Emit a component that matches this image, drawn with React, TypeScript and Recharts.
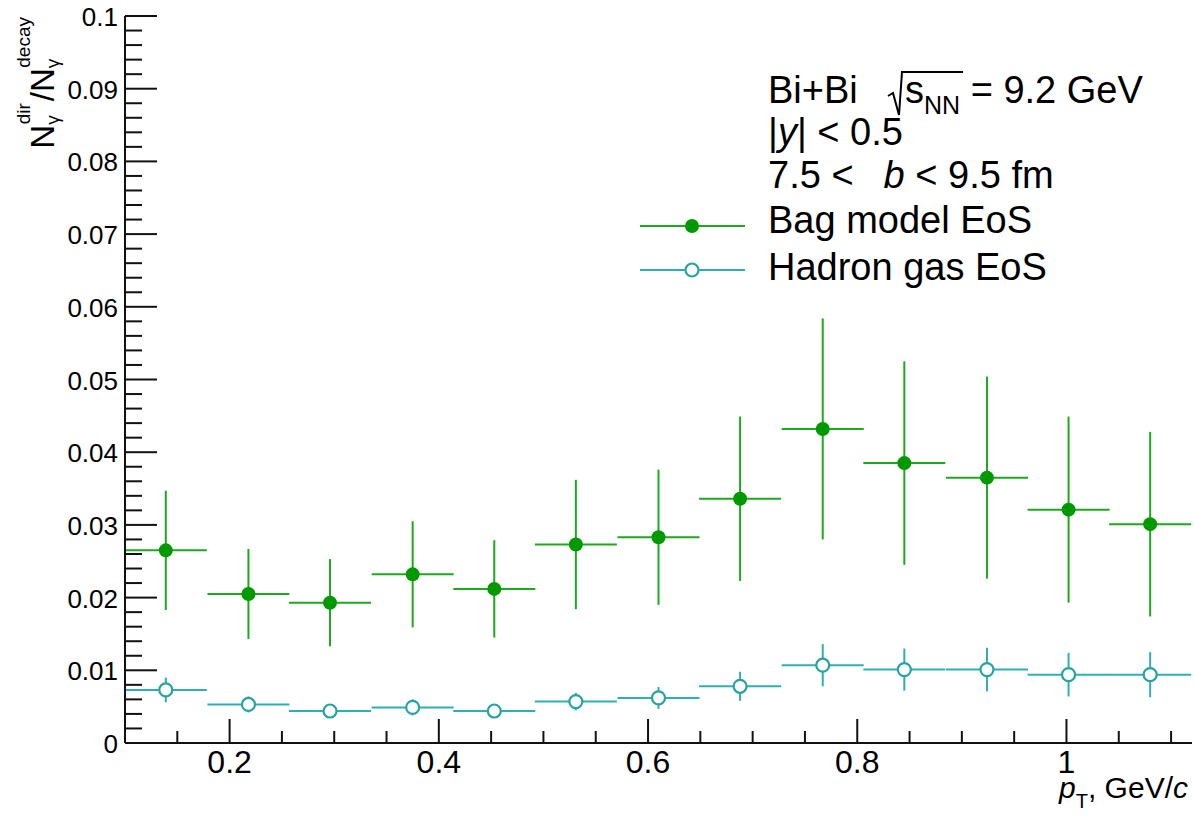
import React from "react";
import { ComposedChart, Scatter, XAxis, YAxis, ErrorBar } from "recharts";

// pT bin centres (GeV/c) and half bin width
const ptBins = [0.139, 0.218, 0.296, 0.375, 0.453, 0.531, 0.61, 0.688, 0.767, 0.845, 0.924, 1.002, 1.08];
const binHalfWidth = 0.0392;

// N_dir / N_decay, bag model EoS
const bagRatio = [0.0265, 0.0205, 0.0193, 0.0232, 0.0212, 0.0273, 0.0283, 0.0336, 0.0432, 0.0385, 0.0365, 0.0321, 0.0301];
const bagErr = [0.0082, 0.0062, 0.006, 0.0073, 0.0067, 0.0089, 0.0093, 0.0113, 0.0152, 0.014, 0.0139, 0.0128, 0.0127];

// N_dir / N_decay, hadron gas EoS
const hadronRatio = [0.0073, 0.0053, 0.0044, 0.0049, 0.0044, 0.0057, 0.0062, 0.0078, 0.0107, 0.0101, 0.0101, 0.0094, 0.0094];
const hadronErr = [0.0017, 0.0011, 0.0008, 0.0011, 0.0009, 0.0012, 0.0015, 0.002, 0.0029, 0.0029, 0.003, 0.003, 0.0031];

const xTicks = [0.1, 0.15, 0.2, 0.25, 0.3, 0.35, 0.4, 0.45, 0.5, 0.55, 0.6, 0.65, 0.7, 0.75, 0.8, 0.85, 0.9, 0.95, 1.0, 1.05, 1.1];
const xMajor = [0.2, 0.4, 0.6, 0.8, 1.0];
const xMajorLabels = ["0.2", "0.4", "0.6", "0.8", "1"];
const yMajor = [0, 0.01, 0.02, 0.03, 0.04, 0.05, 0.06, 0.07, 0.08, 0.09, 0.1];
const yMajorLabels = ["0", "0.01", "0.02", "0.03", "0.04", "0.05", "0.06", "0.07", "0.08", "0.09", "0.1"];
const yTicks = Array.from({ length: 51 }, (_, i) => i * 0.002);

const FONT = "'Liberation Sans', Arial, Helvetica, sans-serif";
const AXIS = "#111";
const GREEN_MARK = "#009900";
const GREEN_LINE = "#1fa81f";
const CYAN_LINE = "#2fb0b0";
const CYAN_MARK = "#2aa2a2";

const bagData = ptBins.map((x, i) => ({ x, y: bagRatio[i], ex: binHalfWidth, ey: bagErr[i] }));
const hadronData = ptBins.map((x, i) => ({ x, y: hadronRatio[i], ex: binHalfWidth, ey: hadronErr[i] }));

const findIdx = (arr: number[], v: number) => arr.findIndex((m) => Math.abs(m - v) < 1e-6);

function BottomTick(props: any) {
  const { x, y, payload } = props;
  const idx = findIdx(xMajor, payload.value);
  return (
    <g>
      <line x1={x} x2={x} y1={y} y2={y - (idx >= 0 ? 24 : 12)} stroke={AXIS} strokeWidth={2} />
      {idx >= 0 && (
        <text x={x} y={y + 30} textAnchor="middle" fontSize={32} fontFamily={FONT} fill="#000">
          {xMajorLabels[idx]}
        </text>
      )}
    </g>
  );
}

function TopTick(props: any) {
  const { x, y, payload } = props;
  const idx = findIdx(xMajor, payload.value);
  return <line x1={x} x2={x} y1={y} y2={y + (idx >= 0 ? 24 : 12)} stroke={AXIS} strokeWidth={2} />;
}

function LeftTick(props: any) {
  const { x, y, payload } = props;
  const idx = findIdx(yMajor, payload.value);
  return (
    <g>
      <line x1={x} x2={x + (idx >= 0 ? 32 : 17)} y1={y} y2={y} stroke={AXIS} strokeWidth={2} />
      {idx >= 0 && (
        <text x={x - 7} y={y + 10} textAnchor="end" fontSize={26} fontFamily={FONT} fill="#000">
          {yMajorLabels[idx]}
        </text>
      )}
    </g>
  );
}

function RightTick(props: any) {
  const { x, y, payload } = props;
  const idx = findIdx(yMajor, payload.value);
  return <line x1={x} x2={x - (idx >= 0 ? 32 : 17)} y1={y} y2={y} stroke={AXIS} strokeWidth={2} />;
}

function Titles() {
  return (
    <g fontFamily={FONT} fill="#000">
      <text x={1188} y={798} textAnchor="end" fontSize={30}>
        <tspan fontStyle="italic">p</tspan>
        <tspan fontSize={20} dy={10}>T</tspan>
        <tspan dy={-10}>, GeV/</tspan>
        <tspan fontStyle="italic">c</tspan>
      </text>
      <text transform="translate(54,17) rotate(-90)" textAnchor="end" fontSize={33}>
        N
        <tspan fontSize={19} dy={5}>γ</tspan>
        <tspan fontSize={19} dx={-9} dy={-29}>dir</tspan>
        <tspan fontSize={33} dy={24} dx={2}>/N</tspan>
        <tspan fontSize={19} dy={5}>γ</tspan>
        <tspan fontSize={19} dx={-9} dy={-29}>decay</tspan>
      </text>
    </g>
  );
}

const filledDot = (p: any) => <circle cx={p.cx} cy={p.cy} r={7} fill={GREEN_MARK} />;
const openDot = (p: any) => <circle cx={p.cx} cy={p.cy} r={6.5} fill="#fff" stroke={CYAN_MARK} strokeWidth={2.2} />;

function LegendBlock() {
  return (
    <g fontFamily={FONT} fontSize={38} fill="#000">
      <text x={768} y={103}>Bi+Bi</text>
      <path d="M888,96 L893,93 L899,115 L902,72 L963,72" stroke="#000" strokeWidth={2} fill="none" />
      <text x={905} y={103}>
        s<tspan fontSize={25} dy={11}>NN</tspan>
        <tspan dy={-11}> = 9.2 GeV</tspan>
      </text>
      <text x={768} y={145}>
        |<tspan fontStyle="italic">y</tspan>| &lt; 0.5
      </text>
      <text x={768} y={188}>
        7.5 &lt;<tspan dx={30} fontStyle="italic">b</tspan> &lt; 9.5 fm
      </text>
      <line x1={640} x2={745} y1={226} y2={226} stroke={GREEN_LINE} strokeWidth={2} />
      <circle cx={692} cy={226} r={7} fill={GREEN_MARK} />
      <text x={768} y={233}>Bag model EoS</text>
      <line x1={640} x2={745} y1={270} y2={270} stroke={CYAN_LINE} strokeWidth={2} />
      <circle cx={692} cy={270} r={6.5} fill="#fff" stroke={CYAN_MARK} strokeWidth={2.2} />
      <text x={768} y={280}>Hadron gas EoS</text>
    </g>
  );
}

export default function App() {
  return (
    <div style={{ width: 1194, height: 815, background: "#fff" }}>
      <style>{"body{margin:0;background:#fff}"}</style>
      <ComposedChart width={1194} height={815} margin={{ top: 16, right: 2, bottom: 0, left: 0 }}>
        <XAxis
          xAxisId="main"
          dataKey="x"
          type="number"
          domain={[0.1, 1.12]}
          allowDataOverflow
          ticks={xTicks}
          interval={0}
          height={72}
          tickSize={0}
          tickMargin={0}
          tickLine={false}
          axisLine={{ stroke: AXIS, strokeWidth: 2 }}
          tick={(p: any) => <BottomTick {...p} />}
        />
        <XAxis
          xAxisId="top"
          orientation="top"
          type="number"
          domain={[0.1, 1.12]}
          allowDataOverflow
          ticks={xTicks}
          interval={0}
          height={0}
          tickSize={0}
          tickMargin={0}
          tickLine={false}
          axisLine={{ stroke: AXIS, strokeWidth: 2 }}
          tick={(p: any) => <TopTick {...p} />}
        />
        <YAxis
          yAxisId="main"
          dataKey="y"
          type="number"
          domain={[0, 0.1]}
          allowDataOverflow
          ticks={yTicks}
          interval={0}
          width={125}
          tickSize={0}
          tickMargin={0}
          tickLine={false}
          axisLine={{ stroke: AXIS, strokeWidth: 2 }}
          tick={(p: any) => <LeftTick {...p} />}
        />
        <YAxis
          yAxisId="right"
          orientation="right"
          type="number"
          domain={[0, 0.1]}
          allowDataOverflow
          ticks={yTicks}
          interval={0}
          width={0}
          tickSize={0}
          tickMargin={0}
          tickLine={false}
          axisLine={{ stroke: AXIS, strokeWidth: 2 }}
          tick={(p: any) => <RightTick {...p} />}
        />
        <Scatter
          name="Hadron gas EoS"
          data={hadronData}
          xAxisId="main"
          yAxisId="main"
          shape={openDot}
          isAnimationActive={false}
        >
          <ErrorBar dataKey="ex" direction="x" width={0} stroke={CYAN_LINE} strokeWidth={2} isAnimationActive={false} />
          <ErrorBar dataKey="ey" direction="y" width={0} stroke={CYAN_LINE} strokeWidth={2} isAnimationActive={false} />
        </Scatter>
        <Scatter
          name="Bag model EoS"
          data={bagData}
          xAxisId="main"
          yAxisId="main"
          shape={filledDot}
          isAnimationActive={false}
        >
          <ErrorBar dataKey="ex" direction="x" width={0} stroke={GREEN_LINE} strokeWidth={2} isAnimationActive={false} />
          <ErrorBar dataKey="ey" direction="y" width={0} stroke={GREEN_LINE} strokeWidth={2} isAnimationActive={false} />
        </Scatter>
        <LegendBlock />
        <Titles />
      </ComposedChart>
    </div>
  );
}
